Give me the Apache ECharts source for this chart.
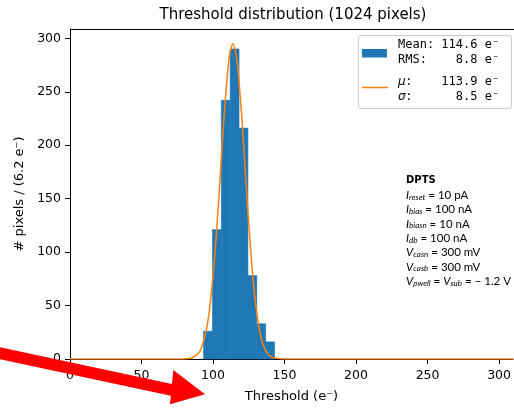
<!DOCTYPE html>
<html>
<head>
<meta charset="utf-8">
<script src="https://cdn.jsdelivr.net/npm/echarts@6/dist/echarts.min.js"></script>
<style>
html,body{margin:0;padding:0;background:#fff;}
#chart{width:514px;height:408px;}
</style>
</head>
<body>
<div id="chart"></div>
<script>
// Histogram bins (e-) and counts
const binWidth = 6.2;
const binStarts = [93.4, 99.6, 105.8, 112.0, 118.2, 124.4, 130.6, 136.8];
const counts = [26, 121, 242, 290, 216, 78, 33, 16];

// Fitted curve, points
const fitX = [0, 60, 75, 80, 85, 90, 92, 95, 97, 100, 102, 104, 106, 108, 110, 111, 112, 113.9, 116, 117, 118, 120, 122, 124, 126, 128, 130, 132, 134, 136, 138, 140, 145, 150, 200, 310];
const fitY = [0, 0, 0, 0.1, 0.9, 5.7, 10.7, 24.9, 40.9, 77.5, 110.7, 149.7, 191.5, 231.9, 265.6, 278.3, 287.7, 295, 286.1, 276, 262.6, 228, 187.3, 145.6, 107.1, 74.5, 49, 30.6, 18, 10, 5.3, 2.7, 0.4, 0, 0, 0];

const xTicks = [0, 50, 100, 150, 200, 250, 300];
const yTicks = [0, 50, 100, 150, 200, 250, 300];

const title = 'Threshold distribution (1024 pixels)';
const xName = 'Threshold (e\u207B)';
const yName = '# pixels / (6.2 e\u207B)';
const legendLines = ['Mean: 114.6 e\u207B', 'RMS:    8.8 e\u207B', '{m|\u03BC}:    113.9 e\u207B', '{m|\u03C3}:      8.5 e\u207B'];

const histData = binStarts.map((s, i) => [s, s + binWidth, counts[i]]);
const fitData = fitX.map((x, i) => [x, fitY[i]]);

const chart = echarts.init(document.getElementById('chart'), null, {renderer: 'canvas'});

const axisCommon = {
  axisLine: {show: true, lineStyle: {color: '#000', width: 1}},
  axisTick: {show: true, inside: false, length: 5, lineStyle: {color: '#000', width: 1}},
  splitLine: {show: false},
  axisLabel: {color: '#000', fontFamily: 'DejaVu Sans', fontSize: 12.5, margin: 9},
  nameTextStyle: {color: '#000', fontFamily: 'DejaVu Sans', fontSize: 13}
};

const sansRich = {
  b: {fontFamily: 'DejaVu Sans', fontWeight: 'bold', fontSize: 10, fill: '#000'},
  i: {fontFamily: 'Lato', fontStyle: 'italic', fontSize: 11.5, fill: '#000'},
  s: {fontFamily: 'Lato', fontStyle: 'italic', fontSize: 8, verticalAlign: 'bottom', padding: [4, 0, 0, 0], fill: '#000'},
  n: {fontFamily: 'Lato', fontSize: 11.5, fill: '#000'}
};

const annText = [
  '{b|DPTS}',
  '{i|I}{s|reset}{n| = 10 pA}',
  '{i|I}{s|bias}{n| = 100 nA}',
  '{i|I}{s|biasn}{n| = 10 nA}',
  '{i|I}{s|db}{n| = 100 nA}',
  '{i|V}{s|casn}{n| = 300 mV}',
  '{i|V}{s|casb}{n| = 300 mV}',
  '{i|V}{s|pwell}{n| = }{i|V}{s|sub}{n| = \u2212 1.2 V}'
];

const annGraphics = annText.map((t, k) => ({
  type: 'text', left: 406, top: 175 + k * 14.3, z: 50,
  style: {text: t, rich: sansRich, fill: '#000'}
}));

const legendGraphics = [
  {type: 'rect', shape: {x: 358.5, y: 35.5, width: 153, height: 73, r: 2}, z: 40,
   style: {fill: 'rgba(255,255,255,0.8)', stroke: '#ccc', lineWidth: 1}},
  {type: 'rect', shape: {x: 362, y: 49, width: 25, height: 8.5}, z: 41, style: {fill: '#1f77b4'}},
  {type: 'line', shape: {x1: 362, y1: 87.5, x2: 388, y2: 87.5}, z: 41, style: {stroke: '#ff7f0e', lineWidth: 1.5}},
].concat(legendLines.map((t, k) => ({
  type: 'text', x: 398, y: [45, 60, 82, 97][k], z: 41,
  style: {text: t, fill: '#000', font: '12px "DejaVu Sans Mono"', textVerticalAlign: 'middle',
          rich: {m: {fontFamily: 'DejaVu Sans', fontStyle: 'italic', fontSize: 12, fill: '#000', width: 7.2}}}
})));

const arrow = {
  type: 'polygon', z: 100,
  shape: {points: [[-2, 346.9], [172, 383.9], [173.3, 370], [205, 394.3], [170, 404.3], [170.8, 395.7], [-2, 358.9]]},
  style: {fill: '#ff0000'}
};

chart.setOption({
  backgroundColor: '#fff',
  animation: false,
  grid: {left: 70, right: -2, top: 29, bottom: 47, containLabel: false, show: false},
  xAxis: Object.assign({}, axisCommon, {
    type: 'value', min: 0, max: 309.7, interval: 50,
    name: xName, nameLocation: 'middle', nameGap: 31,
    axisTick: Object.assign({}, axisCommon.axisTick, {customValues: xTicks}),
    axisLabel: Object.assign({}, axisCommon.axisLabel, {customValues: xTicks, margin: 10})
  }),
  yAxis: Object.assign({}, axisCommon, {
    type: 'value', min: 0, max: 308.7, interval: 50,
    name: yName, nameLocation: 'middle', nameGap: 42, nameRotate: 90,
    axisTick: Object.assign({}, axisCommon.axisTick, {customValues: yTicks}),
    axisLabel: Object.assign({}, axisCommon.axisLabel, {customValues: yTicks})
  }),
  series: [
    {
      type: 'custom', name: 'hist', data: histData, z: 2,
      encode: {x: [0, 1], y: 2},
      renderItem: function (params, api) {
        const p0 = api.coord([api.value(0), api.value(2)]);
        const p1 = api.coord([api.value(1), 0]);
        return {type: 'rect', shape: {x: p0[0], y: p0[1], width: p1[0] - p0[0], height: p1[1] - p0[1]},
                style: {fill: '#1f77b4', stroke: '#1f77b4', lineWidth: 0.6}};
      }
    },
    {
      type: 'line', name: 'fit', data: fitData, z: 3, showSymbol: false, symbol: 'none', smooth: 0.3,
      lineStyle: {color: '#ff7f0e', width: 1.5}, clip: true
    }
  ],
  graphic: [
    {type: 'text', x: 293, y: 15, z: 50,
     style: {text: title, fill: '#000', font: '15px "DejaVu Sans"', textAlign: 'center', textVerticalAlign: 'middle'}},
    {type: 'line', shape: {x1: 70, y1: 29.5, x2: 520, y2: 29.5}, z: 30, style: {stroke: '#000', lineWidth: 1}}
  ].concat(legendGraphics, annGraphics, [arrow])
});
</script>
</body>
</html>
